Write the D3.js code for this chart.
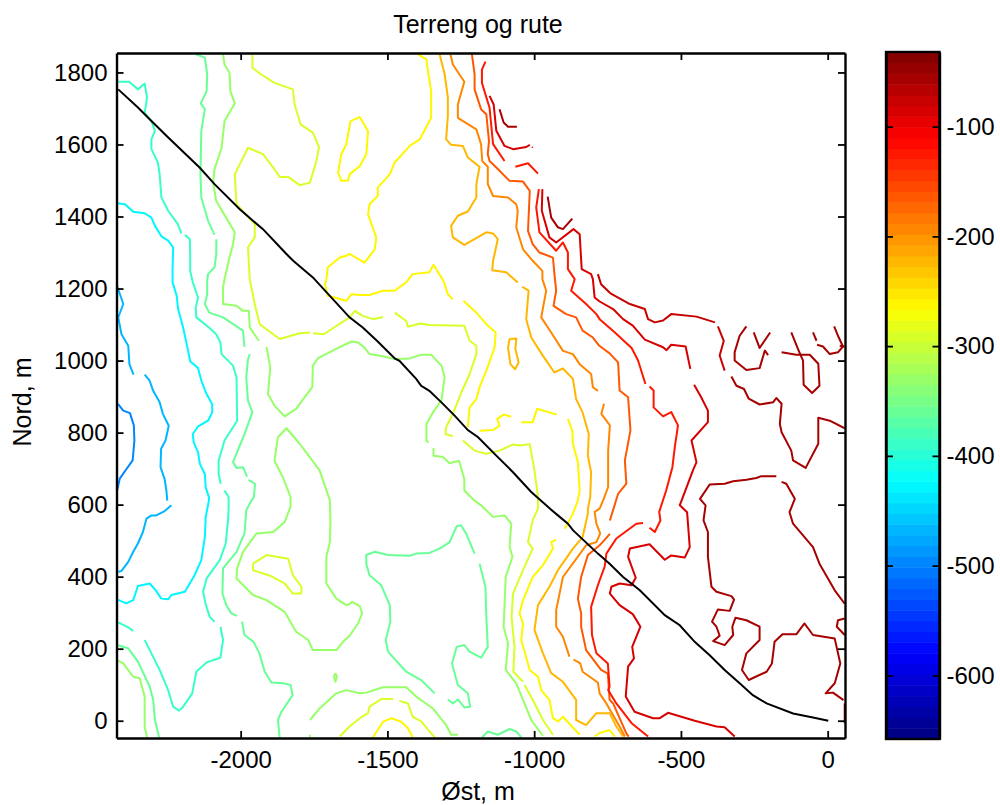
<!DOCTYPE html>
<html>
<head>
<meta charset="utf-8">
<title>Terreng og rute</title>
<style>
  body { margin: 0; background: #fff; }
  svg { display: block; }
  text { font-family: "Liberation Sans", Arial, sans-serif; fill: #000; }
</style>
<script src="https://cdnjs.cloudflare.com/ajax/libs/d3/7.8.5/d3.min.js"></script>
</head>
<body>
<svg id="renderer" width="1000" height="805"></svg>
<script>
// tick labels
var xTicks = [-2000, -1500, -1000, -500, 0];
var yTicks = [0, 200, 400, 600, 800, 1000, 1200, 1400, 1600, 1800];
var barTicks = [-600, -500, -400, -300, -200, -100];

// contour lines per level: [øst, nord] in metres
var lines500 = [
  [[-2418,880],[-2400,861],[-2377,854],[-2364,820],[-2362,778],[-2368,723],[-2389,699],[-2412,672],[-2421,639]]
];
var lines465 = [
  [[-2423,1211],[-2417,1198],[-2400,1157],[-2417,1120],[-2406,1073],[-2383,1041],[-2379,990],[-2365,961]],
  [[-2327,961],[-2310,944],[-2298,916],[-2276,884],[-2265,852],[-2245,819],[-2256,778],[-2271,755],[-2273,704],[-2259,671],[-2253,639],[-2250,611]],
  [[-2236,598],[-2259,582],[-2288,570],[-2304,570],[-2321,561],[-2333,524],[-2350,492],[-2366,469],[-2383,441],[-2406,416],[-2417,413]]
];
var lines425 = [
  [[-2421,1437],[-2394,1434],[-2366,1413],[-2327,1409],[-2304,1397],[-2292,1374],[-2270,1345],[-2247,1333],[-2230,1314],[-2232,1249],[-2232,1217],[-2218,1180],[-2213,1143],[-2196,1092],[-2179,1027],[-2172,998],[-2145,979],[-2134,944],[-2116,907],[-2097,879],[-2097,856],[-2111,833],[-2145,817],[-2163,796],[-2160,773],[-2145,745],[-2139,713],[-2122,685],[-2119,648],[-2108,621],[-2108,612],[-2119,566],[-2122,510],[-2134,446],[-2157,404],[-2190,358],[-2236,349],[-2247,337],[-2270,339],[-2289,362],[-2310,381],[-2350,374],[-2366,335],[-2390,326],[-2421,337]]
];
var lines385 = [
  [[-2421,1774],[-2380,1774],[-2350,1753],[-2327,1769],[-2319,1730],[-2327,1688],[-2304,1665],[-2292,1638],[-2304,1614],[-2304,1587],[-2282,1550],[-2276,1517],[-2270,1453],[-2247,1416],[-2214,1379],[-2202,1353]],
  [[-2190,1349],[-2173,1337],[-2172,1296],[-2172,1249],[-2163,1217],[-2145,1175],[-2153,1147],[-2151,1120],[-2111,1094],[-2083,1073],[-2069,1050],[-2065,1018],[-2026,986],[-2014,953],[-2012,833],[-2055,778],[-2075,722],[-2075,685],[-2068,658]],
  [[-2055,639],[-2041,621],[-2041,588],[-2043,557],[-2051,492],[-2071,446],[-2116,395],[-2128,358],[-2120,326],[-2106,289],[-2089,275]],
  [[-2069,261],[-2060,224],[-2069,175],[-2116,162],[-2151,136],[-2165,76],[-2196,39],[-2210,28],[-2230,39],[-2247,85],[-2276,141],[-2304,187],[-2327,224]],
  [[-2366,249],[-2383,259],[-2417,273]]
];
var lines355 = [
  [[-2151,1850],[-2122,1841],[-2114,1795],[-2116,1748],[-2136,1714],[-2122,1698],[-2134,1638],[-2137,1517],[-2134,1453],[-2111,1388],[-2089,1349]],
  [[-2083,1337],[-2083,1296],[-2089,1259],[-2111,1240],[-2114,1221],[-2114,1184],[-2122,1157],[-2107,1133],[-2060,1120],[-1992,1083],[-1987,1038]],
  [[-1969,1018],[-1975,1004],[-1981,953],[-1975,889],[-1960,856],[-1987,796],[-2026,718],[-2014,702],[-1992,704],[-1978,678]],
  [[-1973,669],[-1951,658],[-1955,621],[-1963,612],[-1981,584],[-1987,520],[-2014,469],[-2060,423],[-2062,353],[-2049,321],[-2032,298],[-2012,291]],
  [[-1995,275],[-1987,238],[-1956,219],[-1936,187],[-1918,136],[-1895,106],[-1856,104],[-1830,99],[-1823,71],[-1861,25],[-1873,2],[-1867,-46]],
  [[-1203,464],[-1232,520],[-1249,543],[-1264,540],[-1288,496],[-1322,478],[-1357,466],[-1402,464],[-1424,458],[-1498,460],[-1543,469],[-1572,460],[-1572,436],[-1561,404],[-1521,376],[-1492,321],[-1490,275],[-1506,224],[-1498,192],[-1436,136],[-1385,113],[-1339,76]],
  [[-1186,436],[-1166,372],[-1163,289],[-1158,205],[-1181,175],[-1220,192],[-1238,210],[-1264,205],[-1280,159],[-1260,99],[-1226,76],[-1218,39],[-1238,37],[-1260,59],[-1277,48],[-1294,59]],
  [[-1177,-46],[-1158,-30],[-1124,-39],[-1084,-23],[-1061,-30],[-1044,-46]],
  [[-2421,210],[-2383,201],[-2350,164],[-2310,95],[-2298,58],[-2292,2],[-2278,-46]]
];
var lines330 = [
  [[-2060,1850],[-2055,1822],[-2038,1799],[-2035,1748],[-2020,1714],[-2055,1665],[-2065,1591],[-2089,1531],[-2094,1494],[-2083,1443],[-2060,1411],[-2020,1356],[-2026,1323],[-2038,1286],[-2055,1226],[-2060,1203],[-2060,1157],[-2014,1152],[-1992,1138],[-1972,1138],[-1969,1092],[-1938,1055]],
  [[-1912,1038],[-1899,981],[-1907,907],[-1885,875],[-1850,845],[-1811,866],[-1787,893],[-1756,926],[-1754,986],[-1736,1007],[-1668,1035],[-1623,1053],[-1600,1050],[-1578,1036],[-1561,1018],[-1515,1012],[-1475,1004],[-1424,1006],[-1385,1016],[-1351,1016],[-1316,986],[-1305,955],[-1316,889],[-1345,856],[-1367,824],[-1367,778],[-1360,772]],
  [[-1343,757],[-1343,736],[-1311,732],[-1288,715],[-1256,722],[-1238,671],[-1238,639],[-1203,611],[-1181,598],[-1140,566],[-1101,570],[-1078,547],[-1084,483],[-1074,455],[-1097,399],[-1104,261],[-1089,215],[-1097,141],[-1061,104],[-1038,58],[-1010,2],[-970,-42]],
  [[-1764,2],[-1731,34],[-1674,76],[-1640,85],[-1594,76],[-1572,78],[-1515,93],[-1436,93],[-1402,67],[-1345,34],[-1300,-12],[-1283,-39],[-1260,-39]],
  [[-1677,132],[-1672,122],[-1677,108],[-1682,122],[-1677,132]],
  [[-1696,612],[-1694,557],[-1696,496],[-1708,455],[-1708,381],[-1674,339],[-1640,321],[-1629,324],[-1620,330],[-1594,318],[-1586,298],[-1600,270],[-1629,236],[-1651,219],[-1674,196],[-1754,196],[-1770,224],[-1811,247],[-1850,302],[-1912,335],[-1958,349],[-2014,395],[-2012,423],[-1992,469],[-1946,520],[-1889,524],[-1850,552],[-1830,594],[-1830,621],[-1856,676],[-1885,722],[-1873,787],[-1844,812],[-1799,769],[-1731,695],[-1696,612]],
  [[-2421,168],[-2400,159],[-2366,122],[-2344,118],[-2327,67],[-2327,-16],[-2319,-46]],
  [[-1764,-46],[-1764,-39]]
];
var lines290 = [
  [[-1960,1850],[-1960,1813],[-1935,1797],[-1885,1771],[-1822,1753],[-1816,1711],[-1796,1656],[-1754,1633],[-1733,1593],[-1742,1554],[-1764,1494],[-1799,1487],[-1838,1510],[-1867,1510],[-1889,1536],[-1924,1573],[-1975,1591],[-2020,1517],[-2014,1434],[-1952,1379],[-1952,1342],[-1975,1314],[-1969,1226],[-1952,1157],[-1935,1101],[-1867,1060],[-1799,1076],[-1764,1078]],
  [[-1754,1076],[-1717,1073],[-1629,1120],[-1611,1138],[-1584,1124],[-1549,1115],[-1515,1121]],
  [[-1475,1133],[-1436,1110],[-1430,1094],[-1390,1103],[-1357,1099],[-1238,1097],[-1220,1055],[-1197,1041],[-1197,1018],[-1220,962],[-1248,912],[-1275,856],[-1300,815],[-1302,796],[-1277,790]],
  [[-1243,778],[-1203,750],[-1163,741],[-1118,750],[-1072,767],[-1050,764],[-1015,768],[-999,695],[-987,621],[-987,588],[-1005,557],[-1021,496],[-1005,478],[-1038,418],[-1072,353],[-1077,289],[-1067,205],[-1071,136],[-1038,108]],
  [[-1033,99],[-1005,58],[-970,2],[-936,-39]],
  [[-1958,436],[-1912,460],[-1838,450],[-1822,404],[-1793,372],[-1793,353],[-1822,353],[-1850,381],[-1895,401],[-1958,418],[-1958,436]],
  [[-1662,-44],[-1629,-16],[-1594,7],[-1566,21],[-1561,39],[-1521,60],[-1481,60]],
  [[-1459,55],[-1430,48],[-1414,11],[-1385,-2],[-1351,-35],[-1339,-46]]
];
var lines260 = [
  [[-1396,1850],[-1367,1836],[-1362,1804],[-1351,1748],[-1351,1674],[-1390,1614],[-1424,1596],[-1475,1550],[-1492,1517],[-1533,1480],[-1533,1457],[-1561,1434],[-1566,1406],[-1538,1342],[-1543,1309],[-1578,1272],[-1629,1296],[-1640,1291],[-1662,1286],[-1703,1259],[-1708,1226],[-1713,1212],[-1703,1180],[-1640,1166],[-1623,1184],[-1594,1182],[-1561,1182],[-1515,1194],[-1475,1194],[-1436,1217],[-1414,1240],[-1357,1245],[-1343,1266],[-1311,1224],[-1305,1212],[-1294,1184],[-1277,1170]],
  [[-1241,1166],[-1197,1133],[-1163,1101],[-1131,1078],[-1135,1036],[-1163,972],[-1186,926],[-1197,893],[-1220,870],[-1226,815]],
  [[-1186,805],[-1140,807],[-1118,819],[-1126,838],[-1104,850],[-1078,844]],
  [[-1044,829],[-1005,829],[-990,866],[-923,850]],
  [[-885,838],[-870,805],[-868,768],[-851,718],[-845,639],[-851,612],[-868,575],[-896,533]],
  [[-925,503],[-942,496],[-936,478],[-970,432],[-1005,399],[-1038,335],[-1050,298],[-1038,270],[-1044,224],[-1015,141],[-987,122],[-976,85],[-948,58],[-936,7],[-919,-2],[-902,11],[-845,-39]],
  [[-794,-44],[-777,-34],[-743,-26],[-725,-44]],
  [[-1626,1665],[-1594,1676],[-1566,1637],[-1572,1573],[-1594,1540],[-1629,1517],[-1635,1499],[-1657,1499],[-1668,1522],[-1657,1573],[-1640,1601],[-1626,1665]],
  [[-1549,-46],[-1515,-3],[-1487,7],[-1453,-3],[-1430,-21],[-1414,-46]]
];
var lines225 = [
  [[-1322,1850],[-1305,1795],[-1294,1730],[-1294,1679],[-1300,1614],[-1283,1599],[-1243,1596],[-1226,1564],[-1186,1538],[-1197,1490],[-1197,1453],[-1226,1414],[-1260,1402],[-1283,1374],[-1277,1342],[-1238,1321],[-1163,1356],[-1140,1353],[-1124,1337],[-1140,1277],[-1143,1251],[-1095,1245],[-1056,1217]],
  [[-1041,1205],[-1019,1194],[-1027,1115],[-1010,1064],[-970,1013],[-931,967],[-902,978],[-868,949],[-857,893],[-835,856],[-814,796],[-817,736],[-806,690],[-809,621],[-817,588],[-817,575],[-835,510],[-868,478],[-919,418],[-948,372],[-987,321],[-999,252],[-970,187],[-942,132],[-902,108],[-857,58],[-857,2],[-823,-12],[-788,21],[-743,21],[-720,-16],[-697,-44]],
  [[-1084,1060],[-1061,1061],[-1064,1032],[-1053,995],[-1065,976],[-1081,990],[-1089,1036],[-1084,1060]]
];
var lines195 = [
  [[-1285,1850],[-1277,1822],[-1238,1774],[-1260,1711],[-1260,1674],[-1197,1642],[-1181,1601],[-1177,1554],[-1158,1538],[-1158,1490],[-1140,1457],[-1089,1453],[-1061,1434],[-1056,1416],[-1061,1370],[-1038,1309],[-1005,1277],[-972,1249],[-972,1226],[-959,1194],[-976,1120],[-942,1078],[-902,1027],[-868,1018],[-845,990],[-806,963],[-800,926],[-783,916]],
  [[-762,880],[-771,852],[-742,820],[-748,750],[-748,713],[-748,649],[-763,616],[-777,589],[-794,580],[-788,547],[-775,520],[-788,496],[-823,487],[-902,399],[-925,307],[-925,261],[-902,233],[-880,178]],
  [[-866,170],[-843,159],[-835,136],[-783,106],[-777,76],[-754,48],[-709,-16],[-691,-44]]
];
var lines160 = [
  [[-1212,1850],[-1203,1795],[-1203,1753],[-1181,1698],[-1163,1684],[-1154,1610],[-1158,1573],[-1152,1554],[-1129,1536],[-1084,1499],[-1038,1497],[-1015,1471],[-1021,1360],[-1005,1323],[-982,1300],[-936,1286],[-931,1240],[-925,1194],[-934,1152],[-891,1129],[-857,1120],[-835,1083],[-800,1064],[-778,1041],[-743,1020],[-714,995],[-709,917],[-680,898],[-672,806],[-691,723],[-686,658],[-714,630],[-742,556]],
  [[-742,519],[-777,487],[-817,460],[-840,399],[-851,339],[-840,298],[-840,261],[-823,196],[-772,141],[-749,131],[-743,58],[-731,48],[-686,-35],[-678,-44]]
];
var lines125 = [
  [[-1166,1830],[-1178,1808],[-1178,1771],[-1152,1702],[-1140,1601],[-1101,1554]],
  [[-1064,1538],[-1021,1548],[-987,1519]],
  [[-984,1476],[-993,1425],[-982,1356],[-925,1305],[-902,1328],[-885,1300],[-885,1254],[-862,1226],[-874,1194],[-823,1157],[-788,1129],[-777,1115],[-725,1078],[-668,1035],[-646,1000],[-621,935]],
  [[-607,928],[-593,917],[-593,870],[-561,845],[-533,857],[-510,820],[-521,759],[-529,704],[-550,640],[-574,580],[-570,556],[-589,524],[-607,536]],
  [[-629,549],[-652,547],[-720,506],[-754,464],[-760,427],[-777,390],[-783,376],[-806,316],[-803,238],[-788,187],[-749,159],[-743,95],[-748,85],[-720,48],[-668,-7],[-612,-44]]
];
var lines90 = [
  [[-1152,1735],[-1138,1711],[-1129,1638],[-1101,1596],[-1072,1587],[-1027,1593],[-1015,1599]],
  [[-1007,1593],[-1005,1591]],
  [[-972,1476],[-974,1416],[-948,1342],[-925,1328],[-866,1365],[-845,1351],[-838,1254],[-806,1240],[-800,1226],[-794,1175],[-777,1164],[-731,1143],[-697,1115],[-664,1097],[-623,1058],[-561,1037],[-549,1029],[-533,1044],[-484,1039],[-468,977]],
  [[-455,933],[-431,898],[-408,861],[-408,829],[-464,778],[-447,718],[-459,695],[-504,598],[-479,579],[-470,482],[-487,453],[-533,459],[-555,447],[-607,490],[-674,478],[-680,455],[-654,397],[-668,376],[-709,381],[-737,372],[-742,353],[-709,321],[-664,296],[-638,261],[-666,205],[-660,173],[-680,150],[-688,67],[-658,25],[-595,7],[-572,7],[-544,22],[-453,0],[-379,-16],[-351,-18],[-317,-44]]
];
var lines75 = [
  [[-783,1240],[-772,1212],[-743,1189],[-737,1185],[-674,1157],[-623,1143],[-612,1115],[-589,1106],[-561,1111],[-533,1129],[-447,1122],[-384,1106]],
  [[-374,1095],[-354,1055],[-368,1014],[-351,972]]
];
var lines55 = [
  [[-328,956],[-311,930],[-285,921],[-269,894],[-232,878],[-186,884],[-175,896],[-157,880],[-163,824],[-157,801],[-124,750],[-118,723],[-75,702],[-32,769],[-32,841],[7,833],[58,812]],
  [[-1118,1698],[-1104,1661],[-1089,1649],[-1059,1649]],
  [[-954,1455],[-942,1397],[-919,1370],[-902,1365],[-870,1394]],
  [[-277,1095],[-300,1069],[-317,1023],[-317,1000],[-277,974],[-232,979],[-214,1028],[-203,1015]],
  [[-252,1078],[-232,1035],[-196,1078]],
  [[-157,1023],[-107,1016],[-61,1016],[-32,991],[-28,930],[-53,910],[-82,933],[-84,1000],[-101,1032],[-124,1078]],
  [[-50,1078],[-38,1055]],
  [[-36,1044],[-16,1039],[7,1018],[35,1023],[52,1039],[35,1069],[22,1095]],
  [[41,1041],[58,1039]],
  [[-175,679],[-226,679],[-243,674],[-277,669],[-322,665],[-351,658],[-402,656],[-435,616],[-416,598],[-423,556],[-408,524],[-408,455],[-396,372],[-379,358],[-328,346],[-319,336],[-334,305],[-374,309],[-394,275],[-379,261],[-368,236],[-390,221],[-351,210],[-322,238],[-325,261],[-314,286],[-277,279],[-232,261],[-232,224],[-277,187],[-292,141],[-269,113],[-208,136],[-190,159],[-181,219],[-154,240],[-107,240],[-79,270],[-50,238],[24,228],[43,159],[24,104],[-7,76],[18,78],[54,57]],
  [[-157,663],[-141,658],[-112,616],[-130,579],[-118,547],[-50,482],[-28,436],[24,362],[58,325]],
  [[58,284],[35,279],[31,261],[58,238]],
  [[58,48],[58,-7]]
];

// the black route
var route = [[-2417,1753],[-2349,1702],[-2310,1670],[-2253,1624],[-2140,1536],[-2089,1490],[-2003,1420],[-1958,1388],[-1924,1365],[-1844,1296],[-1821,1277],[-1754,1231],[-1629,1120],[-1584,1092],[-1533,1053],[-1475,1006],[-1459,999],[-1402,949],[-1385,930],[-1357,916],[-1316,884],[-1271,847],[-1226,807],[-1191,787],[-1129,736],[-1072,690],[-1010,635],[-942,586],[-913,566],[-885,547],[-868,529],[-783,464],[-743,436],[-697,399],[-640,362],[-555,293],[-504,265],[-453,219],[-402,182],[-351,141],[-300,104],[-255,71],[-208,48],[-118,20],[-50,9],[2,0]];

var contourSets = [
  [-500, lines500], [-465, lines465], [-425, lines425], [-385, lines385], [-355, lines355],
  [-330, lines330], [-290, lines290], [-260, lines260], [-225, lines225], [-195, lines195],
  [-160, lines160], [-125, lines125], [-90, lines90], [-75, lines75], [-55, lines55]
];

var root = d3.select('#renderer');

var plotLeft = 116.5, plotRight = 845, plotTop = 53, plotBottom = 738;
var barLeft = 886, barRight = 939.5, barTop = 52, barBottom = 739;
var zMin = -658, zMax = -32;

var x = d3.scaleLinear().domain([-2423, 59]).range([plotLeft, plotRight]);
var y = d3.scaleLinear().domain([-48, 1854]).range([plotBottom, plotTop]);
var barY = d3.scaleLinear().domain([zMin, zMax]).range([barBottom, barTop]);

// matlab jet, 64 steps
function jet(t) {
  var r = Math.min(Math.max(Math.min(4 * t - 1.5, 4.5 - 4 * t), 0), 1);
  var g = Math.min(Math.max(Math.min(4 * t - 0.5, 3.5 - 4 * t), 0), 1);
  var b = Math.min(Math.max(Math.min(4 * t + 0.5, 2.5 - 4 * t), 0), 1);
  return d3.rgb(r * 255, g * 255, b * 255).formatHex();
}
var jetColors = d3.range(64).map(function (i) { return jet((i + 0.5) / 64); });
var color = d3.scaleQuantize().domain([zMin, zMax]).range(jetColors);

var defs = root.append('defs');
defs.append('clipPath').attr('id', 'plotClip').append('rect')
  .attr('x', plotLeft).attr('y', plotTop)
  .attr('width', plotRight - plotLeft).attr('height', plotBottom - plotTop);

var line = d3.line().x(function (d) { return x(d[0]); }).y(function (d) { return y(d[1]); });

var marks = root.append('g').attr('clip-path', 'url(#plotClip)');
contourSets.forEach(function (set) {
  marks.selectAll(null).data(set[1]).enter().append('path')
    .attr('d', line)
    .attr('fill', 'none')
    .attr('stroke', color(set[0]))
    .attr('stroke-width', 2)
    .attr('stroke-linejoin', 'round');
});
marks.append('path').datum(route)
  .attr('d', line)
  .attr('fill', 'none')
  .attr('stroke', '#000')
  .attr('stroke-width', 2);

// axes, ticks point inwards on all four sides
function styleAxis(g) {
  g.selectAll('path').attr('stroke', '#000').attr('stroke-width', 2.4);
  g.selectAll('line').attr('stroke', '#000').attr('stroke-width', 1.8);
  g.selectAll('text').attr('font-size', 24).attr('font-family', '"Liberation Sans", Arial, sans-serif');
}
var tickLen = 7;
root.append('g').attr('transform', 'translate(0,' + plotBottom + ')')
  .call(d3.axisBottom(x).tickValues(xTicks).tickSize(-tickLen).tickSizeOuter(0).tickPadding(tickLen + 6).tickFormat(String))
  .call(styleAxis);
root.append('g').attr('transform', 'translate(0,' + plotTop + ')')
  .call(d3.axisTop(x).tickValues(xTicks).tickSize(-tickLen).tickSizeOuter(0).tickFormat(''))
  .call(styleAxis);
root.append('g').attr('transform', 'translate(' + plotLeft + ',0)')
  .call(d3.axisLeft(y).tickValues(yTicks).tickSize(-tickLen).tickSizeOuter(0).tickPadding(tickLen + 2).tickFormat(String))
  .call(styleAxis);
root.append('g').attr('transform', 'translate(' + plotRight + ',0)')
  .call(d3.axisRight(y).tickValues(yTicks).tickSize(-tickLen).tickSizeOuter(0).tickFormat(''))
  .call(styleAxis);

// colour bar
var bands = d3.range(64);
var bandStep = (zMax - zMin) / 64;
root.append('g').selectAll('rect').data(bands).enter().append('rect')
  .attr('x', barLeft)
  .attr('width', barRight - barLeft)
  .attr('y', function (i) { return barY(zMin + (i + 1) * bandStep); })
  .attr('height', function (i) { return barY(zMin) - barY(zMin + bandStep) + 0.5; })
  .attr('fill', function (i) { return jetColors[i]; });

root.append('g').attr('transform', 'translate(' + barRight + ',0)')
  .call(d3.axisRight(barY).tickValues(barTicks).tickSize(-tickLen).tickSizeOuter(0).tickPadding(tickLen).tickFormat(String))
  .call(styleAxis);
root.append('g').attr('transform', 'translate(' + barLeft + ',0)')
  .call(d3.axisLeft(barY).tickValues(barTicks).tickSize(-tickLen).tickSizeOuter(0).tickFormat(''))
  .call(styleAxis);
root.append('rect')
  .attr('x', barLeft).attr('y', barTop)
  .attr('width', barRight - barLeft).attr('height', barBottom - barTop)
  .attr('fill', 'none').attr('stroke', '#000').attr('stroke-width', 2.4);

// titles
root.append('text').text('Terreng og rute')
  .attr('x', 478).attr('y', 33).attr('font-size', 25).attr('text-anchor', 'middle');
root.append('text').text('Øst, m')
  .attr('x', 478).attr('y', 800).attr('font-size', 25).attr('text-anchor', 'middle');
root.append('text').text('Nord, m')
  .attr('transform', 'translate(31,402) rotate(-90)')
  .attr('font-size', 25).attr('text-anchor', 'middle');
</script>
</body>
</html>
